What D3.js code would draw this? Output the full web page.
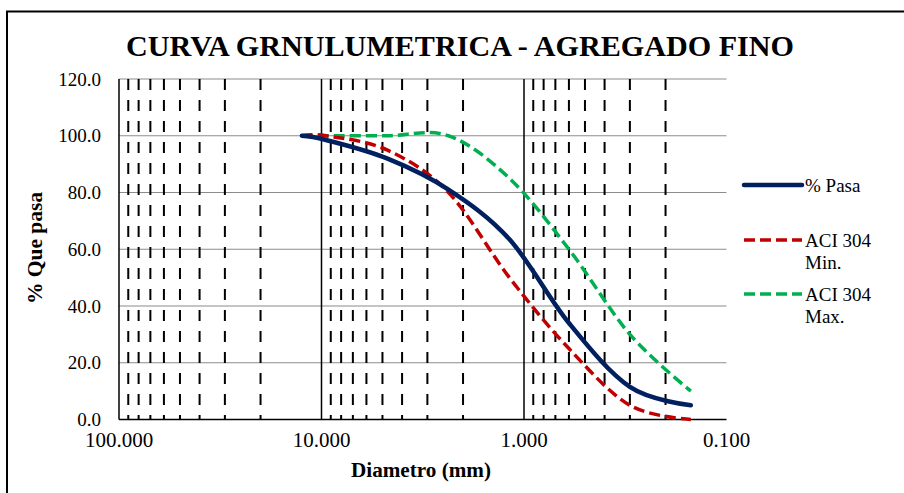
<!DOCTYPE html>
<html><head><meta charset="utf-8">
<script src="https://cdn.jsdelivr.net/npm/d3@7"></script>
<style>html,body{margin:0;padding:0;background:#fff;}svg{display:block;}
text{font-family:"Liberation Serif","Tinos","Times New Roman","Times","DejaVu Serif","Noto Serif","FreeSerif",serif;}</style>
</head><body>
<script>
const sieves = [12.5, 9.5, 4.75, 2.36, 1.18, 0.6, 0.3, 0.15];
const pasa   = [100, 98.5, 92, 81, 63.5, 34, 11.5, 5];
const aciMin = [100, 100, 95, 80, 50, 25, 5, 0];
const aciMax = [100, 100, 100, 100, 85, 60, 30, 10];
const xTicks = [100, 10, 1, 0.1];
const yTicks = [0, 20, 40, 60, 80, 100, 120];
const seriesNames = ["% Pasa", "ACI 304 Min.", "ACI 304 Max."];

const W = 904, H = 493;
const L = 119, R = 726.5, T = 79, B = 419.5;
const svg = d3.select("body").append("svg").attr("width", W).attr("height", H);

// outer frame
svg.append("path").attr("d", `M7,493 L7,11.5 L904,11.5`).attr("fill","none").attr("stroke","#000").attr("stroke-width",2);

const x = d3.scaleLog().domain([100, 0.1]).range([L, R]);
const y = d3.scaleLinear().domain([0, 120]).range([B, T]);

// horizontal gridlines
svg.append("g").selectAll("line").data(yTicks.filter(v => v > 0)).join("line")
  .attr("x1", L).attr("x2", R).attr("y1", d => y(d)).attr("y2", d => y(d))
  .attr("stroke", "#8c8c8c").attr("stroke-width", 1.2);

// vertical minor (dashed) gridlines
const minor = [];
[10, 1, 0.1].forEach(d => { for (let m = 2; m <= 9; m++) minor.push(m * d); });
svg.append("g").selectAll("line").data(minor).join("line")
  .attr("x1", d => x(d)).attr("x2", d => x(d)).attr("y1", T).attr("y2", B)
  .attr("stroke", "#000").attr("stroke-width", 2).attr("stroke-dasharray", "11,10");
// major verticals
svg.append("g").selectAll("line").data([10, 1]).join("line")
  .attr("x1", d => x(d)).attr("x2", d => x(d)).attr("y1", T).attr("y2", B)
  .attr("stroke", "#000").attr("stroke-width", 1.5);

// axes lines
svg.append("line").attr("x1", L).attr("x2", L).attr("y1", T).attr("y2", B).attr("stroke","#000").attr("stroke-width",1.5);
svg.append("line").attr("x1", L).attr("x2", R).attr("y1", B).attr("y2", B).attr("stroke","#000").attr("stroke-width",1.5);

// tick labels
svg.append("g").selectAll("text").data(yTicks).join("text")
  .attr("x", 101).attr("y", d => y(d)).attr("dy", "0.35em").attr("text-anchor", "end")
  .attr("font-size", 19).attr("fill", "#000")
  .text(d => d.toFixed(1));
svg.append("g").selectAll("text").data(xTicks).join("text")
  .attr("x", d => x(d)).attr("y", 447).attr("text-anchor", "middle")
  .attr("font-size", 21).attr("fill", "#000")
  .text(d => d.toFixed(3));

// axis titles
svg.append("text").attr("x", 421).attr("y", 477).attr("text-anchor","middle")
  .attr("font-weight","bold").attr("font-size",20)
  .attr("textLength", 140).attr("lengthAdjust", "spacingAndGlyphs").text("Diametro (mm)");
svg.append("text").attr("transform","translate(42,248) rotate(-90)").attr("text-anchor","middle")
  .attr("font-weight","bold").attr("font-size",20)
  .attr("textLength", 112).attr("lengthAdjust", "spacingAndGlyphs").text("% Que pasa");

// title
svg.append("text").attr("x", 460).attr("y", 56).attr("text-anchor","middle")
  .attr("font-weight","bold").attr("font-size",30)
  .attr("textLength", 668).attr("lengthAdjust", "spacingAndGlyphs")
  .text("CURVA GRNULUMETRICA - AGREGADO FINO");

// series
const line = d3.line().x((d,i) => x(sieves[i])).y(d => y(d)).curve(d3.curveCardinal.tension(0));
const styles = [
  {data: pasa, color: "#002060", width: 4.5, dash: null},
  {data: aciMin, color: "#C00000", width: 3.5, dash: "11,5"},
  {data: aciMax, color: "#00B050", width: 3.5, dash: "11,5"}
];
[2,1,0].forEach(i => {
  const s = styles[i];
  svg.append("path").attr("d", line(s.data)).attr("fill","none")
    .attr("stroke", s.color).attr("stroke-width", s.width)
    .attr("stroke-dasharray", s.dash).attr("stroke-linecap", s.dash ? "butt" : "round");
});

// legend
const legY = [185, 240, 294];
const legLabels = [["% Pasa"], ["ACI 304", "Min."], ["ACI 304", "Max."]];
styles.forEach((s, i) => {
  svg.append("line").attr("x1", 744).attr("x2", 802).attr("y1", legY[i]).attr("y2", legY[i])
    .attr("stroke", s.color).attr("stroke-width", s.width)
    .attr("stroke-dasharray", s.dash).attr("stroke-linecap", s.dash ? "butt" : "round");
  const t = svg.append("text").attr("x", 805).attr("y", legY[i])
    .attr("font-size", 19).attr("fill","#000");
  legLabels[i].forEach((ln, j) => {
    t.append("tspan").attr("x", 805).attr("dy", j === 0 ? "0.35em" : "1.2em").text(ln);
  });
});
</script>
</body></html>
